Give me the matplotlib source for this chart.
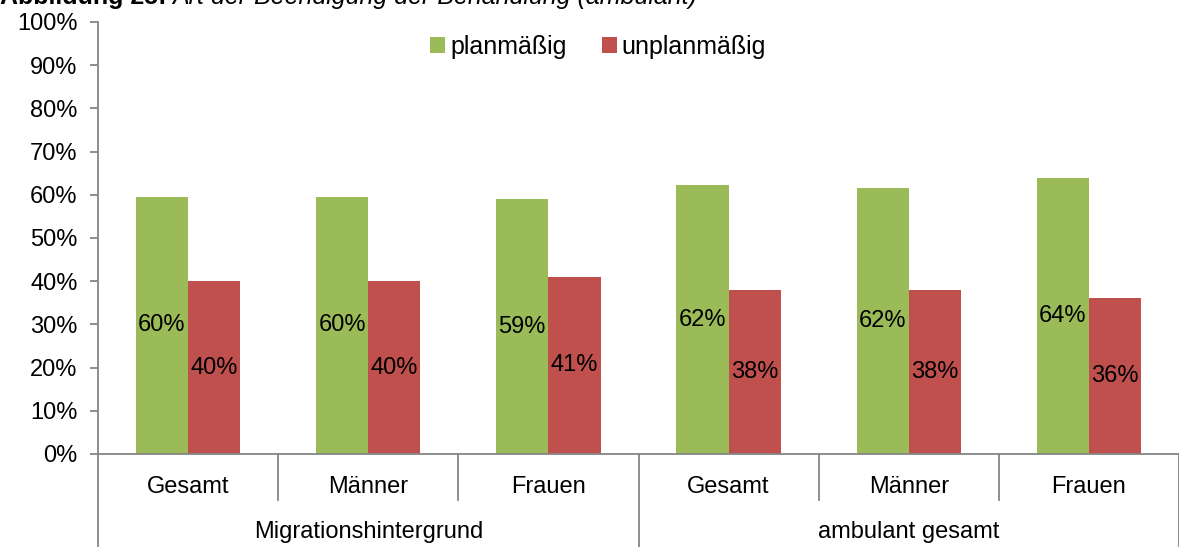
import matplotlib
matplotlib.use("Agg")
import matplotlib.pyplot as plt
import matplotlib.transforms as mtransforms
import numpy as np

plt.rcParams['font.family'] = ['Liberation Sans', 'DejaVu Sans']

categories = ["Gesamt", "Männer", "Frauen", "Gesamt", "Männer", "Frauen"]
groups = ["Migrationshintergrund", "ambulant gesamt"]
planmaessig = [59.5, 59.5, 59.0, 62.2, 61.6, 63.9]
unplanmaessig = [40.0, 40.0, 41.0, 38.0, 38.0, 36.1]
labels_plan = ["60%", "60%", "59%", "62%", "62%", "64%"]
labels_unplan = ["40%", "40%", "41%", "38%", "38%", "36%"]
yticks = list(range(0, 101, 10))

green = "#9BBB59"
red = "#C0504D"
axis_gray = "#868686"
FS = 17

W, H = 1179, 547
fig = plt.figure(figsize=(W / 100, H / 100), dpi=100)
x0, y0, x1, y1 = 98, 454, 1179, 22
ax = fig.add_axes([x0 / W, (H - y0) / H, (x1 - x0) / W, (y0 - y1) / H])

x = np.arange(len(categories))
bw = 0.29
ax.bar(x - bw / 2, planmaessig, bw, color=green, label="planmäßig", zorder=2)
ax.bar(x + bw / 2, unplanmaessig, bw, color=red, label="unplanmäßig", zorder=2)

for xi, v, t in zip(x, planmaessig, labels_plan):
    ax.text(xi - bw / 2, v / 2, t, ha="center", va="center", fontsize=FS, color="black", zorder=3)
for xi, v, t in zip(x, unplanmaessig, labels_unplan):
    ax.text(xi + bw / 2, v / 2, t, ha="center", va="center", fontsize=FS, color="black", zorder=3)

ax.set_xlim(-0.5, len(categories) - 0.5)
ax.set_ylim(0, 100)
ax.set_yticks(yticks)
ax.set_yticklabels([f"{t}%" for t in yticks], fontsize=FS)
ax.set_xticks([])
for s in ["top", "right"]:
    ax.spines[s].set_visible(False)
for s in ["left", "bottom"]:
    ax.spines[s].set_color(axis_gray)
    ax.spines[s].set_linewidth(1.3)
ax.tick_params(axis="y", direction="out", length=5.8, color=axis_gray, width=1.3, pad=9)

trans = mtransforms.blended_transform_factory(ax.transData, ax.transAxes)
short_bottom = -(500 - 454) / 432
long_bottom = -(547 - 454) / 432 - 0.01
for b in [0.5, 1.5, 3.5, 4.5]:
    ax.plot([b, b], [0, short_bottom], transform=trans, color=axis_gray, lw=1.3, clip_on=False)
for b in [-0.5, 2.5, 5.5]:
    ax.plot([b, b], [0, long_bottom], transform=trans, color=axis_gray, lw=1.3, clip_on=False)

for xi, c in zip(x, categories):
    ax.text(xi, -(487 - 454) / 432, c, transform=trans, ha="center", va="center", fontsize=FS)
for gi, g in enumerate(groups):
    ax.text(gi * 3 + 1, -(532 - 454) / 432, g, transform=trans, ha="center", va="center", fontsize=FS)

ax.legend(loc="center", bbox_to_anchor=(598 / W, 1 - 47 / H), bbox_transform=fig.transFigure,
          ncol=2, frameon=False, fontsize=18, handlelength=0.6, handleheight=0.6,
          handletextpad=0.2, columnspacing=1.4, borderaxespad=0, borderpad=0)

t1 = fig.text(0, 1 - 4 / H, "Abbildung 25:", fontsize=18, fontweight="bold", va="baseline", ha="left")
fig.canvas.draw()
bb = t1.get_window_extent(renderer=fig.canvas.get_renderer())
fig.text((bb.x1 + 6) / W, 1 - 4 / H, "Art der Beendigung der Behandlung (ambulant)", fontsize=18,
         fontstyle="italic", va="baseline", ha="left")

fig.savefig("out.png", dpi=100)
